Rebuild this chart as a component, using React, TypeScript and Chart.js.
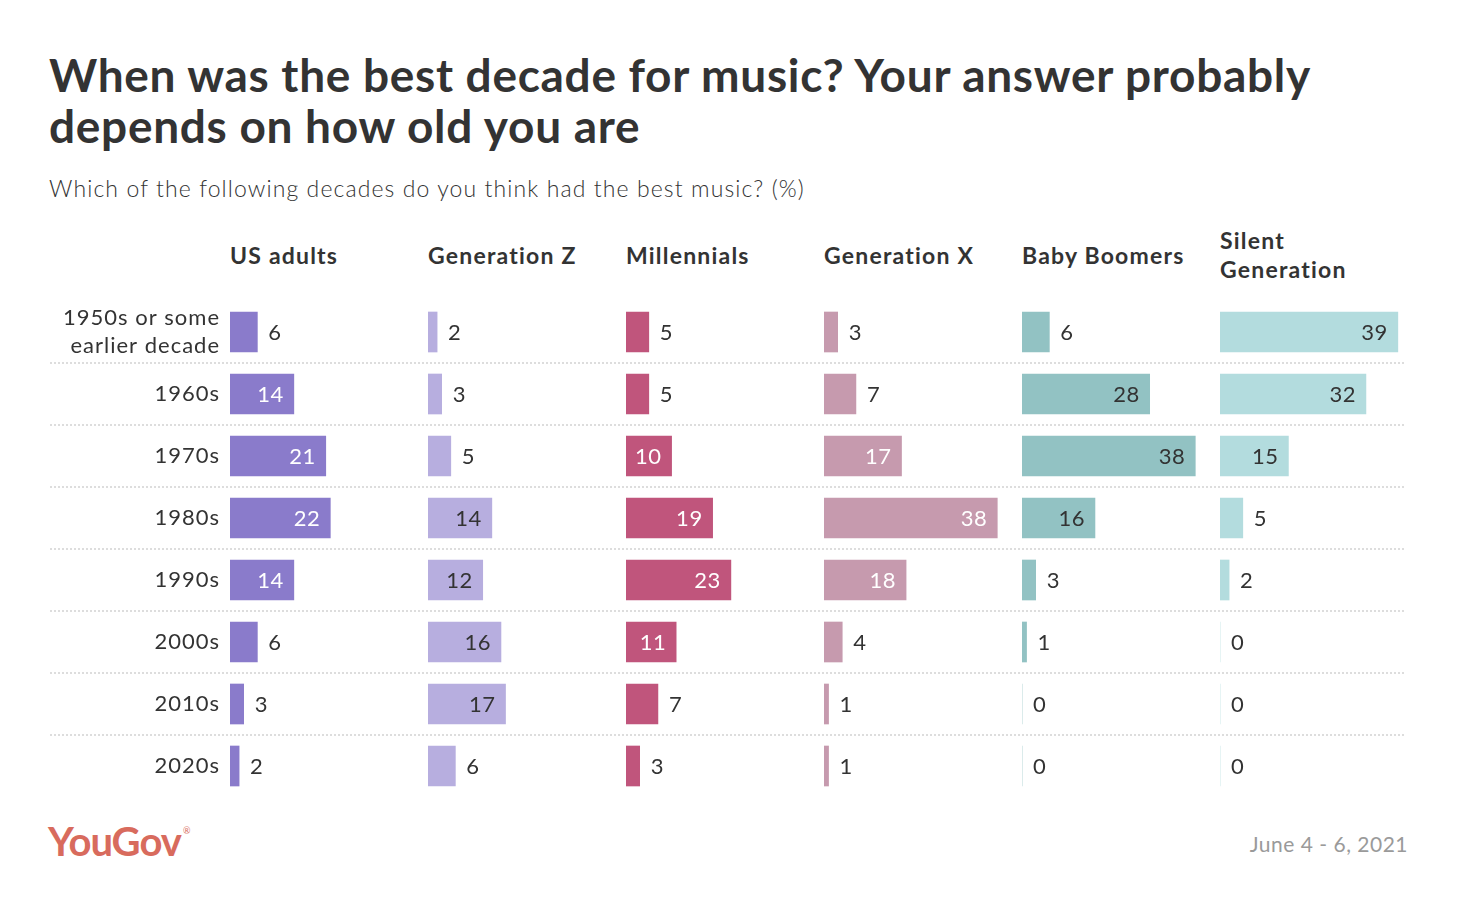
import { useEffect, useRef } from "react"
import { Chart, registerables } from "chart.js"

Chart.register(...registerables)

const decades = [
  ["1950s or some", "earlier decade"],
  "1960s",
  "1970s",
  "1980s",
  "1990s",
  "2000s",
  "2010s",
  "2020s",
]

const groups = ["US adults", "Generation Z", "Millennials", "Generation X", "Baby Boomers", "Silent Generation"]

const usAdults = [6, 14, 21, 22, 14, 6, 3, 2]
const genZ = [2, 3, 5, 14, 12, 16, 17, 6]
const millennials = [5, 5, 10, 19, 23, 11, 7, 3]
const genX = [3, 7, 17, 38, 18, 4, 1, 1]
const boomers = [6, 28, 38, 16, 3, 1, 0, 0]
const silent = [39, 32, 15, 5, 2, 0, 0, 0]

const series = [usAdults, genZ, millennials, genX, boomers, silent]
const barColors = ["#8a7bcb", "#b7aedf", "#c0557c", "#c69aae", "#92c2c3", "#b3dcde"]
const insideLabelColors = ["#ffffff", "#333333", "#ffffff", "#ffffff", "#333333", "#333333"]

const COL_MAX = 43.42
const FONT = "Lato, 'Open Sans', sans-serif"

const textSpacing = {
  id: "textSpacing",
  beforeDraw(chart: Chart) {
    ;(chart.ctx as any).letterSpacing = "1px"
  },
}

const rowLines = {
  id: "rowLines",
  beforeDatasetsDraw(chart: Chart) {
    const y = chart.scales.y
    const ctx = chart.ctx
    ctx.save()
    ctx.strokeStyle = "#dddddd"
    ctx.lineWidth = 2
    ctx.setLineDash([2, 2])
    for (let i = 0; i < decades.length - 1; i++) {
      const py = Math.round((y.getPixelForTick(i) + y.getPixelForTick(i + 1)) / 2)
      ctx.beginPath()
      ctx.moveTo(50, py)
      ctx.lineTo(1406, py)
      ctx.stroke()
    }
    ctx.restore()
  },
}

const valueLabels = {
  id: "valueLabels",
  afterDatasetsDraw(chart: Chart) {
    const ctx = chart.ctx
    ctx.save()
    ctx.font = `400 22px ${FONT}`
    ;(ctx as any).letterSpacing = "0.5px"
    ctx.textBaseline = "middle"
    chart.data.datasets.forEach((ds, di) => {
      const meta = chart.getDatasetMeta(di)
      meta.data.forEach((bar: any, i: number) => {
        const v = ds.data[i] as number
        if (v >= 10) {
          ctx.textAlign = "right"
          ctx.fillStyle = insideLabelColors[di]
          ctx.fillText(String(v), bar.x - 10, bar.y + 1)
        } else {
          ctx.textAlign = "left"
          ctx.fillStyle = "#333333"
          ctx.fillText(String(v), bar.x + 11, bar.y + 1)
        }
      })
    })
    ctx.restore()
  },
}

function DecadeChart() {
  const chartRef = useRef<HTMLCanvasElement>(null)
  const chartInstance = useRef<Chart | null>(null)

  useEffect(() => {
    if (!chartRef.current) return
    const ctx = chartRef.current.getContext("2d")
    if (!ctx) return

    if (chartInstance.current) {
      chartInstance.current.destroy()
    }

    const scales: any = {
      y: {
        type: "category",
        position: "left",
        grid: { display: false, drawTicks: false },
        border: { display: false },
        ticks: {
          color: "#333333",
          padding: 10,
          font: { family: FONT, size: 22, weight: "400", lineHeight: 1.3 },
        },
        afterFit: (scale: any) => {
          scale.width = 230
          scale.paddingTop = 0
          scale.paddingBottom = 0
        },
      },
    }
    series.forEach((_, i) => {
      scales["x" + i] = {
        type: "linear",
        position: "bottom",
        stack: "cols",
        stackWeight: 1,
        min: 0,
        max: COL_MAX,
        display: false,
      }
    })

    chartInstance.current = new Chart(ctx, {
      type: "bar",
      data: {
        labels: decades,
        datasets: series.map((data, i) => ({
          label: groups[i],
          data,
          xAxisID: "x" + i,
          yAxisID: "y",
          backgroundColor: barColors[i],
          borderWidth: 0,
          barThickness: 40,
          grouped: false,
        })),
      },
      options: {
        indexAxis: "y",
        responsive: true,
        maintainAspectRatio: false,
        animation: false,
        layout: { padding: { top: 11, bottom: 3, left: 0, right: 64 } },
        scales,
        plugins: {
          legend: { display: false },
          tooltip: { enabled: false },
        },
      },
      plugins: [textSpacing, rowLines, valueLabels],
    })

    return () => {
      if (chartInstance.current) {
        chartInstance.current.destroy()
        chartInstance.current = null
      }
    }
  }, [])

  return (
    <div style={{ position: "absolute", left: 0, top: 290, width: 1482, height: 510 }}>
      <canvas ref={chartRef}></canvas>
    </div>
  )
}

export default function App() {
  return (
    <div
      style={{
        position: "fixed",
        left: 0,
        top: 0,
        width: 1482,
        height: 912,
        background: "#ffffff",
        fontFamily: FONT,
        color: "#333333",
      }}
    >
      <div
        style={{
          position: "absolute",
          left: 49,
          top: 49,
          width: 1400,
          fontSize: 46,
          lineHeight: "51px",
          fontWeight: 700,
          letterSpacing: "0.7px",
          color: "#333333",
        }}
      >
        When was the best decade for music? Your answer probably
        <br />
        depends on how old you are
      </div>
      <div
        style={{
          position: "absolute",
          left: 49,
          top: 174,
          fontSize: 23,
          fontWeight: 300,
          letterSpacing: "1.1px",
          color: "#333333",
        }}
      >
        Which of the following decades do you think had the best music? (%)
      </div>
      {groups.map((g, i) => (
        <div
          key={g}
          style={{
            position: "absolute",
            left: 230 + 198 * i,
            top: 226,
            height: 58,
            width: 196,
            display: "flex",
            alignItems: "center",
            fontSize: 23,
            lineHeight: "29px",
            fontWeight: 700,
            letterSpacing: "1.2px",
            color: "#333333",
          }}
        >
          {g === "Silent Generation" ? (
            <span>
              Silent
              <br />
              Generation
            </span>
          ) : (
            <span>{g}</span>
          )}
        </div>
      ))}
      <DecadeChart />
      <div
        style={{
          position: "absolute",
          left: 48,
          top: 818,
          fontSize: 40,
          fontWeight: 700,
          letterSpacing: "-1px",
          color: "#d86b5d",
          lineHeight: "46px",
          whiteSpace: "nowrap",
        }}
      >
        YouGov
        <span style={{ fontSize: 9, fontWeight: 400, position: "relative", top: -22, left: 2 }}>®</span>
      </div>
      <div
        style={{
          position: "absolute",
          right: 1482 - 1408,
          top: 831,
          fontSize: 21,
          fontWeight: 400,
          letterSpacing: "0.5px",
          color: "#9a9a9a",
        }}
      >
        June 4 - 6, 2021
      </div>
    </div>
  )
}
